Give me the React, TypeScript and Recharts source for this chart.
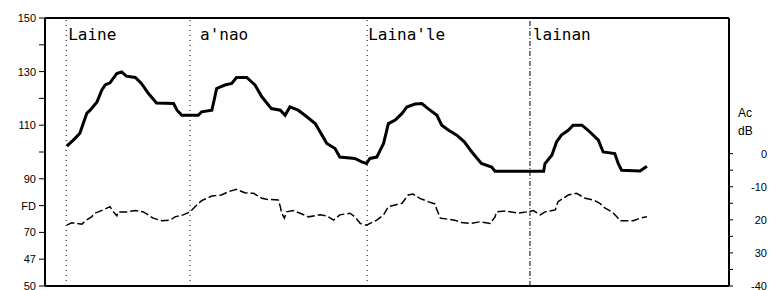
import { LineChart, Line, XAxis, YAxis, ReferenceLine } from 'recharts'

// ── Data ─────────────────────────────────────────────────────────────────────

// level trace (left axis), time in % of record
const LEVEL_T = [
  3.2, 4.4, 5.1, 6.1, 6.6, 7.6, 8.3, 8.8, 9.5, 10.5,
  11.2, 11.9, 13.2, 14.1, 15.1, 16.3, 18.8, 19.3, 20.0, 22.4,
  22.9, 24.4, 25.1, 26.3, 27.3, 28.0, 29.5, 30.7, 31.7, 33.1,
  34.4, 35.1, 35.8, 37.0, 38.0, 39.5, 40.5, 41.2, 42.4, 43.1,
  45.3, 46.3, 47.0, 47.5, 48.5, 49.5, 50.2, 51.2, 52.2, 52.9,
  54.1, 55.1, 56.0, 57.3, 58.0, 59.0, 60.2, 61.3, 62.4, 63.8,
  65.3, 65.8, 72.9, 73.1, 74.1, 74.8, 75.5, 76.5, 77.2, 78.5,
  79.4, 80.9, 81.6, 83.3, 83.8, 84.3, 87.0, 88.0,
]
const LEVEL_V = [
  102.2, 105.1, 107.0, 114.4, 115.6, 118.7, 123.1, 125.0, 125.8, 129.3,
  129.9, 128.3, 127.8, 125.6, 121.9, 118.3, 118.1, 115.6, 113.7, 113.7,
  115.0, 115.6, 123.7, 125.0, 125.6, 127.8, 127.8, 125.0, 120.6, 116.2,
  115.6, 113.7, 116.8, 115.6, 113.7, 110.6, 106.3, 103.2, 101.3, 98.1,
  97.6, 96.3, 95.7, 97.6, 98.1, 103.2, 110.6, 111.9, 114.4, 116.8,
  117.9, 118.1, 116.2, 113.7, 110.0, 108.1, 106.3, 103.8, 100.0, 95.7,
  94.4, 92.8, 92.8, 95.7, 98.8, 103.8, 106.3, 108.1, 110.0, 110.0,
  108.1, 104.4, 100.0, 99.4, 95.7, 93.2, 92.9, 94.7,
]

// Ac trace (right axis, dB)
const AC_T = [
  3.2, 3.9, 5.4, 5.9, 6.8, 7.3, 8.5, 9.5, 10.0, 10.5,
  10.7, 11.9, 13.2, 14.4, 15.1, 15.8, 17.1, 18.3, 19.0, 20.2,
  21.2, 22.2, 22.9, 24.4, 25.8, 26.8, 28.0, 29.2, 30.5, 31.7,
  32.4, 34.1, 34.4, 34.6, 35.0, 35.3, 36.3, 37.3, 38.5, 40.2,
  41.2, 42.2, 43.1, 44.6, 45.3, 46.1, 47.0, 48.5, 49.5, 50.2,
  51.2, 52.2, 53.1, 53.8, 54.8, 56.0, 57.0, 57.3, 57.8, 59.9,
  60.9, 62.1, 63.6, 65.1, 65.8, 66.0, 67.3, 69.2, 70.4, 71.4,
  72.4, 73.1, 74.6, 75.0, 76.5, 77.7, 79.0, 80.2, 81.1, 81.9,
  82.9, 83.6, 84.1, 86.0, 87.0, 88.0,
]
const AC_V = [
  -21.6, -20.9, -21.3, -20.3, -19.1, -18.0, -17.0, -16.0, -17.6, -18.8,
  -17.6, -17.6, -17.2, -17.6, -18.5, -19.5, -20.3, -20.1, -19.1, -18.5,
  -17.6, -15.5, -14.2, -12.8, -12.5, -11.5, -10.8, -11.8, -12.0, -13.5,
  -13.8, -14.0, -16.0, -18.0, -19.5, -17.6, -17.2, -18.0, -19.1, -18.5,
  -18.8, -20.1, -18.5, -18.0, -19.1, -21.1, -21.6, -20.1, -18.5, -16.0,
  -15.5, -15.0, -12.5, -12.2, -13.5, -14.5, -15.2, -17.0, -19.5, -20.1,
  -20.8, -21.1, -20.6, -21.1, -19.1, -17.6, -17.3, -18.0, -17.6, -17.2,
  -18.5, -17.6, -17.0, -14.5, -12.5, -12.0, -13.5, -14.0, -15.0, -16.5,
  -17.6, -19.1, -20.3, -20.3, -19.5, -19.1,
]

const EVENT_T = [3.1, 21.2, 47.1, 70.9]
const EVENT_NAMES = ['Laine', "a'nao", "Laina'le", 'lainan']

const LEFT_TICKS = [50, 60, 70, 80, 90, 100, 110, 120, 130, 140, 150]
const LEFT_TICK_LABELS = ['50', '47', '70', 'FD', '90', '', '110', '', '130', '', '150']

const RIGHT_TICKS = [-40, -35, -30, -25, -20, -15, -10, -5, 0]
const RIGHT_TICK_LABELS = ['-40', '', '30', '', '20', '', '-10', '', '0']

// ── Styles ───────────────────────────────────────────────────────────────────

const EVENT_DASH = ['1 4', '1 4', '1 4', '5 2 1 2']
const EVENT_DX = [2, 10, 1, 3]
const TICK_FONT = { fontFamily: 'Liberation Sans', fontSize: 11, fill: '#000' }
const AXIS = { stroke: '#000', strokeWidth: 2 }

const levelData = LEVEL_T.map((t, i) => ({ t, level: LEVEL_V[i] }))
const acData = AC_T.map((t, i) => ({ t, ac: AC_V[i] }))

const W = 769
const H = 290

function RightTick({ y, payload }: any) {
  const i = RIGHT_TICKS.indexOf(payload.value)
  return (
    <text x={W - 2} y={y} dy={4} textAnchor="end" {...TICK_FONT}>
      {RIGHT_TICK_LABELS[i]}
    </text>
  )
}

export default function App() {
  return (
    <div style={{ position: 'absolute', left: 0, top: 0, width: W, height: H, background: '#fff' }}>
      <LineChart width={W} height={H} margin={{ top: 18, right: 0, bottom: 4, left: 0 }}>
        <XAxis dataKey="t" type="number" domain={[0, 100]} hide />
        <YAxis
          yAxisId="left"
          type="number"
          domain={[50, 150]}
          ticks={LEFT_TICKS}
          interval={0}
          width={45}
          tickSize={6}
          tickMargin={3}
          axisLine={AXIS}
          tickLine={{ stroke: '#000', strokeWidth: 1 }}
          tick={TICK_FONT}
          tickFormatter={(v: number) => LEFT_TICK_LABELS[LEFT_TICKS.indexOf(v)]}
        />
        <YAxis
          yAxisId="right"
          orientation="right"
          type="number"
          domain={[-40, 41]}
          ticks={RIGHT_TICKS}
          interval={0}
          width={40}
          tickSize={4}
          axisLine={AXIS}
          tickLine={{ stroke: '#000', strokeWidth: 1 }}
          tick={<RightTick />}
          label={{
            content: () => (
              <text x={738} y={117} {...TICK_FONT} fontSize={12}>
                <tspan x={738}>Ac</tspan>
                <tspan x={738} dy={18}>dB</tspan>
              </text>
            ),
          }}
        />
        {/* frame top and bottom */}
        <ReferenceLine y={150} yAxisId="left" stroke="#000" strokeWidth={2} />
        <ReferenceLine y={50} yAxisId="left" stroke="#000" strokeWidth={2} />
        {EVENT_T.map((t, i) => (
          <ReferenceLine
            key={EVENT_NAMES[i]}
            x={t}
            yAxisId="left"
            stroke="#000"
            strokeWidth={1}
            strokeDasharray={EVENT_DASH[i]}
            label={{
              content: (p: any) => (
                <text x={p.viewBox.x + EVENT_DX[i]} y={p.viewBox.y + 22}
                  fontFamily="DejaVu Sans Mono" fontSize={16} fill="#000">
                  {EVENT_NAMES[i]}
                </text>
              ),
            }}
          />
        ))}
        <Line data={acData} dataKey="ac" yAxisId="right" type="linear" stroke="#000"
          strokeWidth={1.5} strokeDasharray="8 3" dot={false} isAnimationActive={false} />
        <Line data={levelData} dataKey="level" yAxisId="left" type="linear" stroke="#000"
          strokeWidth={3} dot={false} isAnimationActive={false} />
      </LineChart>
    </div>
  )
}
